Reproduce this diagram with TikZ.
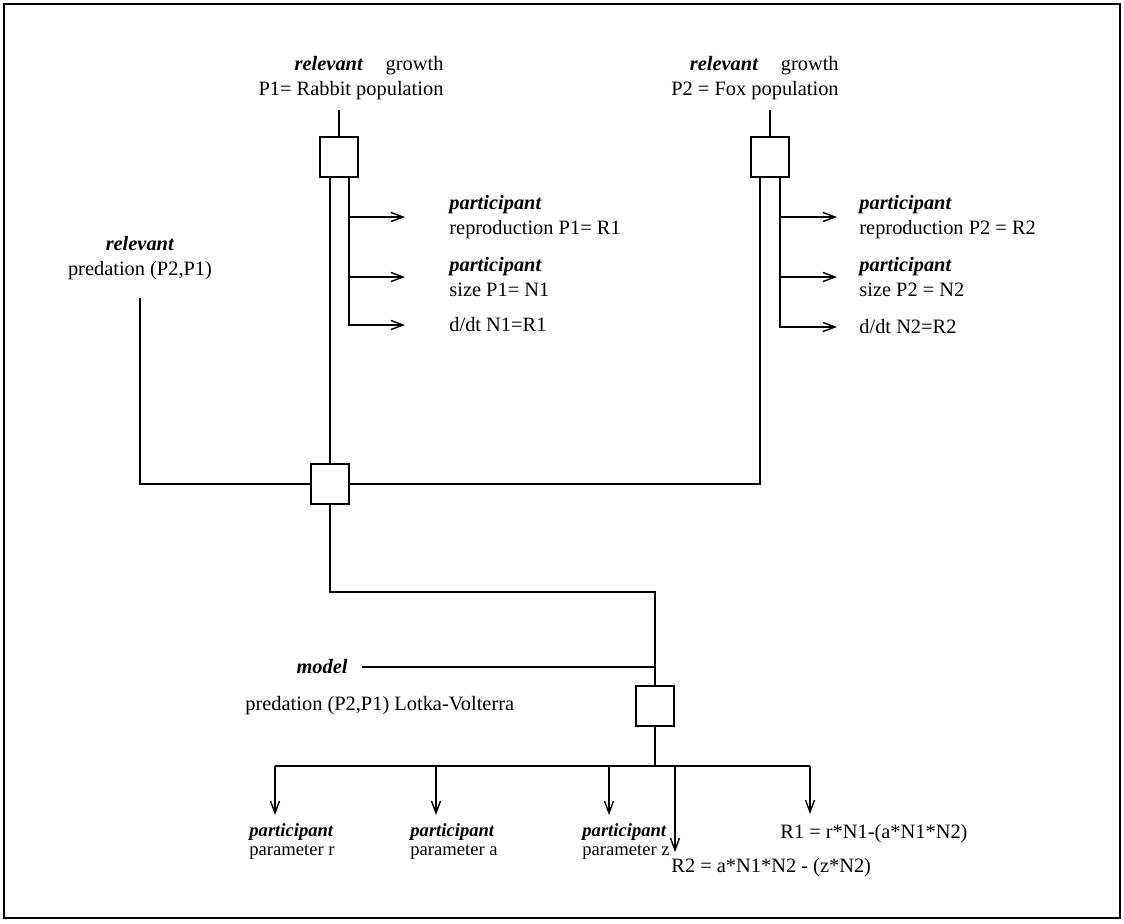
\documentclass[tikz,border=0pt]{standalone}
\usepackage{fontspec}
\setmainfont{Liberation Serif}
\usetikzlibrary{positioning, calc, arrows.meta}

\tikzset{
  unitbox/.style={draw, line width=0.9pt, minimum width=19pt, minimum height=20pt, inner sep=0pt},
  lbl/.style={inner sep=1pt, font=\fontsize{10.2}{12.3}\selectfont},
  small/.style={inner sep=1pt, font=\fontsize{9.3}{10.5}\selectfont},
  link/.style={line width=0.7pt},
  feed/.style={link, -{Straight Barb[length=6pt,width=4.5pt]}},
}
\newcommand{\role}[1]{\textbf{\textit{#1}}}

\begin{document}
\begin{tikzpicture}[x=0.5pt, y=-0.5pt]
  \useasboundingbox (0,0) rectangle (1124,923);
  \draw[line width=0.75pt] (4,4) rectangle (1120,918);

  % rabbit growth
  \node[lbl, align=right] (grow1) at (351,78) {\role{relevant}\hspace{1.1em}growth\\P1= Rabbit population};
  \node[unitbox] (box1) at (339,157) {};
  \coordinate (leg1a) at (330,177);
  \coordinate (leg1b) at (349,177);
  \node[lbl, anchor=west, align=left] (rep1) at (447,217) {\role{participant}\\reproduction P1= R1};
  \node[lbl, anchor=west, align=left] (size1) at (447,277) {\role{participant}\\size P1= N1};
  \node[lbl, anchor=west] (dt1) at (447,325) {d/dt N1=R1};

  \draw[link] ([yshift=-4pt]grow1.south -| box1) -- (box1.north);
  \draw[feed] (leg1b) |- ([xshift=-21pt]dt1.west);
  \draw[feed] (leg1b |- rep1.west) -- ([xshift=-21pt]rep1.west);
  \draw[feed] (leg1b |- size1.west) -- ([xshift=-21pt]size1.west);

  % fox growth
  \node[lbl, align=right] (grow2) at (755,78) {\role{relevant}\hspace{1.1em}growth\\P2 = Fox population};
  \node[unitbox] (box2) at (770,157) {};
  \coordinate (leg2a) at (760,177);
  \coordinate (leg2b) at (780,177);
  \node[lbl, anchor=west, align=left] (rep2) at (857,217) {\role{participant}\\reproduction P2 = R2};
  \node[lbl, anchor=west, align=left] (size2) at (857,277) {\role{participant}\\size P2 = N2};
  \node[lbl, anchor=west] (dt2) at (857,327) {d/dt N2=R2};

  \draw[link] ([yshift=-4pt]grow2.south -| box2) -- (box2.north);
  \draw[feed] (leg2b) |- ([xshift=-10pt]dt2.west);
  \draw[feed] (leg2b |- rep2.west) -- ([xshift=-10pt]rep2.west);
  \draw[feed] (leg2b |- size2.west) -- ([xshift=-10pt]size2.west);

  % predation
  \node[lbl, align=center] (pred) at (140,258) {\role{relevant}\\predation (P2,P1)};
  \node[unitbox] (box3) at (330,484) {};
  \draw[link] ([yshift=-8pt]pred.south) |- (box3.west);
  \draw[link] (leg1a) -- (box3.north);
  \draw[link] (box3.east) -| (leg2a);

  % model
  \node[lbl, anchor=east] (modl) at (350,667) {\role{model}};
  \node[lbl, anchor=west] (lv) at (243,706) {predation (P2,P1) Lotka-Volterra};
  \node[unitbox] (box4) at (655,706) {};
  \coordinate (turn) at (655,592);
  \coordinate (fork) at (655,766);
  \draw[link] (box3.south) |- (turn) -- (box4.north);
  \draw[link] ([xshift=6pt]modl.east) -- (modl.east -| box4);
  \draw[link] (box4.south) -- (fork);

  % parameters and rates
  \node[small, anchor=north west, align=left] (par1) at (247,821) {\role{participant}\\[-1pt]parameter r};
  \node[small, anchor=north west, align=left] (par2) at (408,821) {\role{participant}\\[-1pt]parameter a};
  \node[small, anchor=north west, align=left] (par3) at (580,821) {\role{participant}\\[-1pt]parameter z};
  \node[lbl, anchor=north west] (r1) at (778,822) {R1 = r*N1-(a*N1*N2)};
  \node[lbl, anchor=north west] (r2) at (669,856) {R2 = a*N1*N2 - (z*N2)};

  \draw[link] ([xshift=14pt]par1.north west |- fork) -- ([xshift=16pt]r1.north west |- fork);
  \draw[feed] ([xshift=14pt]par1.north west |- fork) -- ([xshift=14pt,yshift=3pt]par1.north west);
  \draw[feed] ([xshift=14pt]par2.north west |- fork) -- ([xshift=14pt,yshift=3pt]par2.north west);
  \draw[feed] ([xshift=14.5pt]par3.north west |- fork) -- ([xshift=14.5pt,yshift=3pt]par3.north west);
  \draw[feed] ([xshift=16pt]r1.north west |- fork) -- ([xshift=16pt,yshift=4pt]r1.north west);
  \draw[feed] ([xshift=3pt]r2.north west |- fork) -- ([xshift=3pt,yshift=2pt]r2.north west);
\end{tikzpicture}
\end{document}
